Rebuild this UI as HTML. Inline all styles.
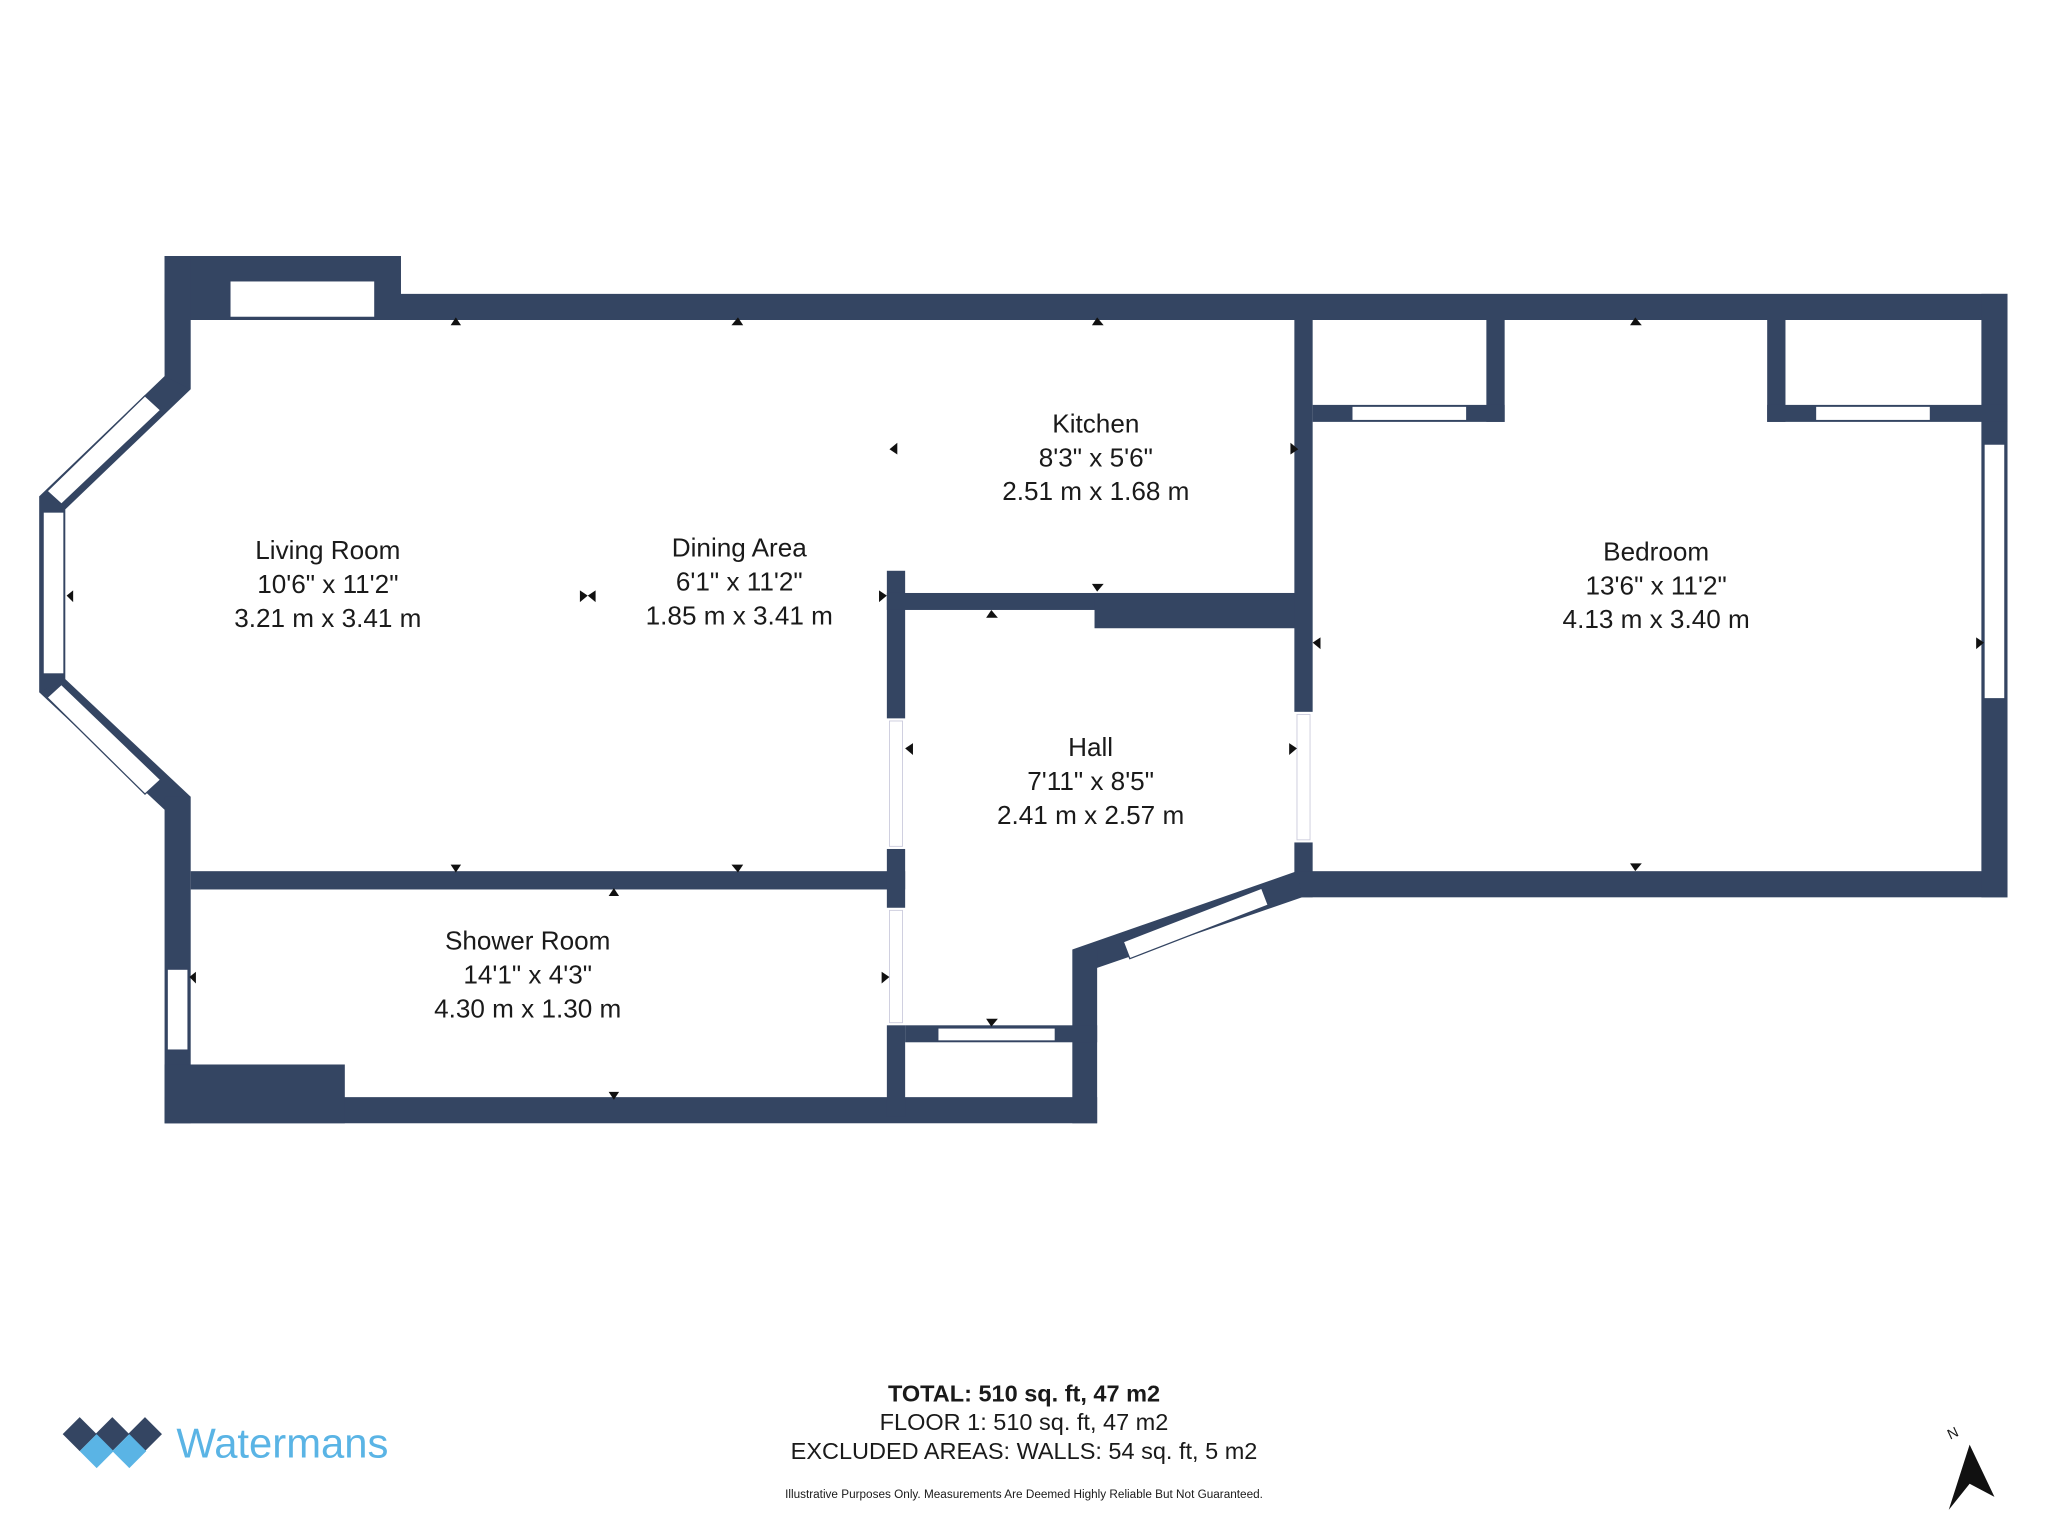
<!DOCTYPE html>
<html><head><style>
html,body{margin:0;padding:0;background:#fff;}
svg{display:block;}
text{font-family:"Liberation Sans",sans-serif;fill:#1a1a1a;}
</style></head><body>
<svg width="2048" height="1536" viewBox="0 0 1568 1176" xmlns="http://www.w3.org/2000/svg">
<g fill="#344562">
<rect x="126" y="196" width="181" height="49"/>
<rect x="126" y="225" width="1411" height="20"/>
<rect x="126" y="196" width="20" height="102"/>
<polygon points="126,288 146,298 50,390 30,380"/>
<rect x="30" y="380" width="20" height="150"/>
<polygon points="30,530 50,520 146,610 126,620"/>
<rect x="126" y="610" width="20" height="250"/>
<rect x="126" y="840" width="714" height="20"/>
<rect x="126" y="815" width="138" height="45"/>
<rect x="146" y="667" width="547" height="14"/>
<rect x="679" y="437" width="14" height="113"/>
<rect x="679" y="650" width="14" height="45"/>
<rect x="679" y="785" width="14" height="70"/>
<rect x="679" y="454" width="314" height="13"/>
<rect x="838" y="454" width="155" height="27"/>
<rect x="991" y="245" width="14" height="300"/>
<rect x="991" y="645" width="14" height="42"/>
<rect x="993" y="667" width="544" height="20"/>
<rect x="1517" y="225" width="20" height="462"/>
<rect x="1138" y="245" width="14" height="78"/>
<rect x="1005" y="310" width="147" height="13"/>
<rect x="1353" y="245" width="14" height="78"/>
<rect x="1353" y="310" width="184" height="13"/>
<polygon points="993,667 997,687 840,741 821,727"/>
<rect x="821" y="727" width="19" height="133"/>
<rect x="693" y="785" width="147" height="13"/>
</g>
<g fill="#fff" stroke="#344562" stroke-width="1">
<rect x="176" y="215" width="111" height="28"/>
<polygon points="111,303 123,314 47,386 36,376"/>
<rect x="33" y="392" width="16" height="124"/>
<polygon points="36,534 47,524 123,597 111,608"/>
<rect x="128" y="742" width="16" height="62"/>
<rect x="1035" y="311" width="88" height="11"/>
<rect x="1390" y="311" width="88" height="11"/>
<rect x="1519" y="340" width="16" height="195"/>
<rect x="718" y="787" width="90" height="10"/>
<polygon points="860,721 966,680 971,693 865,734"/>
</g>
<g fill="#fff" stroke="#ccd" stroke-width="0.7">
<rect x="681" y="552" width="10" height="96"/>
<rect x="993" y="547" width="10" height="96"/>
<rect x="681" y="697" width="10" height="86"/>
</g>
<g fill="#111">
<polygon points="345,249 353,249 349,243"/><polygon points="560,249 569,249 565,243"/><polygon points="836,249 845,249 840,243"/><polygon points="1248,249 1257,249 1252,243"/>
<polygon points="345,662 353,662 349,668"/><polygon points="560,662 569,662 565,668"/><polygon points="466,686 474,686 470,680"/>
<polygon points="466,836 474,836 470,842"/><polygon points="755,780 764,780 759,786"/><polygon points="755,473 764,473 759,467"/><polygon points="836,447 845,447 840,453"/>
<polygon points="1248,661 1257,661 1252,667"/>
<polygon points="56,452 56,461 51,456"/><polygon points="150,744 150,753 145,748"/>
<polygon points="444,452 444,461 450,456"/><polygon points="456,452 456,461 450,456"/>
<polygon points="687,339 687,348 681,344"/><polygon points="988,339 988,348 994,344"/>
<polygon points="673,452 673,461 679,456"/><polygon points="699,569 699,578 693,573"/><polygon points="987,569 987,578 993,573"/>
<polygon points="675,744 675,753 681,748"/><polygon points="1011,488 1011,497 1005,492"/><polygon points="1513,488 1513,497 1519,492"/>
</g>
<g font-size="20" text-anchor="middle">
<text x="251" y="428">Living Room</text><text x="251" y="454">10'6" x 11'2"</text><text x="251" y="480">3.21 m x 3.41 m</text>
<text x="566" y="426">Dining Area</text><text x="566" y="452">6'1" x 11'2"</text><text x="566" y="478">1.85 m x 3.41 m</text>
<text x="839" y="331">Kitchen</text><text x="839" y="357">8'3" x 5'6"</text><text x="839" y="383">2.51 m x 1.68 m</text>
<text x="1268" y="429">Bedroom</text><text x="1268" y="455">13'6" x 11'2"</text><text x="1268" y="481">4.13 m x 3.40 m</text>
<text x="835" y="579">Hall</text><text x="835" y="605">7'11" x 8'5"</text><text x="835" y="631">2.41 m x 2.57 m</text>
<text x="404" y="727">Shower Room</text><text x="404" y="753">14'1" x 4'3"</text><text x="404" y="779">4.30 m x 1.30 m</text>
</g>
<g text-anchor="middle">
<text x="784" y="1073" font-size="18" font-weight="bold">TOTAL: 510 sq. ft, 47 m2</text>
<text x="784" y="1095" font-size="18">FLOOR 1: 510 sq. ft, 47 m2</text>
<text x="784" y="1117" font-size="18">EXCLUDED AREAS: WALLS: 54 sq. ft, 5 m2</text>
<text x="784" y="1147" font-size="9">Illustrative Purposes Only. Measurements Are Deemed Highly Reliable But Not Guaranteed.</text>
</g>
<g>
<polygon points="61,1085 74,1098 61,1111 48,1098" fill="#344562"/>
<polygon points="86,1085 99,1098 86,1111 73,1098" fill="#344562"/>
<polygon points="111,1085 124,1098 111,1111 98,1098" fill="#344562"/>
<polygon points="74,1098 87,1111 74,1124 61,1111" fill="#5ab4e5"/>
<polygon points="99,1098 112,1111 99,1124 86,1111" fill="#5ab4e5"/>
<text x="135" y="1116" font-size="32" style="fill:#5ab4e5">Watermans</text>
</g>
<polygon points="1508,1106 1527,1146 1508,1136 1492,1156" fill="#111"/>
<text x="1495" y="1101" font-size="11" text-anchor="middle" transform="rotate(-25 1495 1097)">N</text>
</svg>
</body></html>
